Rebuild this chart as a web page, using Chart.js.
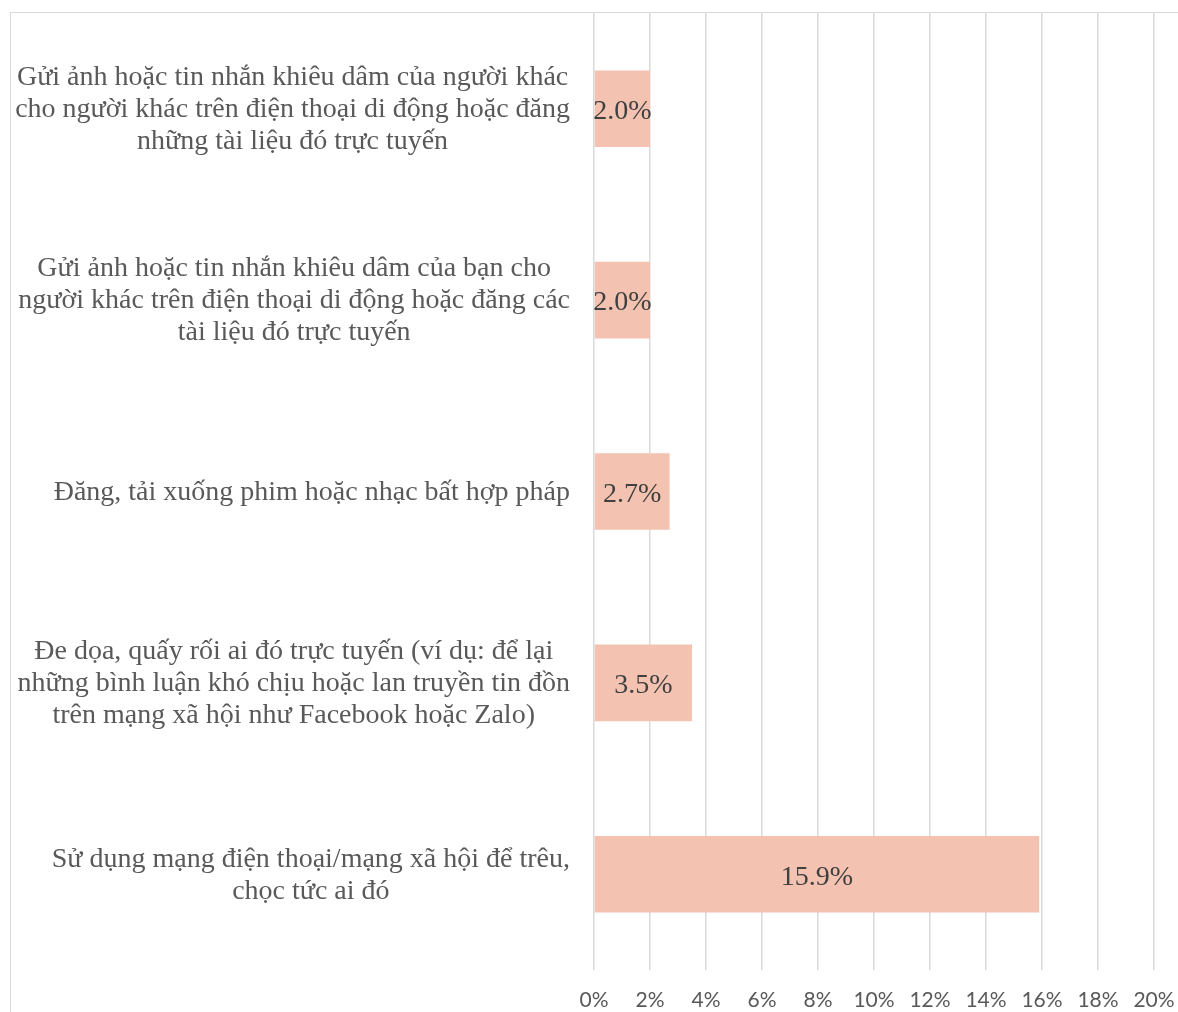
<!DOCTYPE html>
<html>
<head>
<meta charset="utf-8">
<script src="https://cdn.jsdelivr.net/npm/chart.js@4/dist/chart.umd.min.js"></script>
<style>
  html, body { margin: 0; padding: 0; background: #ffffff; }
  #wrap { position: relative; width: 1178px; height: 1012px; overflow: hidden; }
  #frame { position: absolute; left: 10px; top: 12px; width: 1200px; height: 1100px;
           border-left: 1px solid #d9d9d9; border-top: 1px solid #d9d9d9; box-sizing: border-box; pointer-events: none; }
  canvas { position: absolute; left: 0; top: 0; }
</style>
</head>
<body>
<div id="wrap">
  <canvas id="c" width="1178" height="1012"></canvas>
  <div id="frame"></div>
</div>
<script>
const categories = [
  ["Gửi ảnh hoặc tin nhắn khiêu dâm của người khác", "cho người khác trên điện thoại di động hoặc đăng", "những tài liệu đó trực tuyến"],
  ["Gửi ảnh hoặc tin nhắn khiêu dâm của bạn cho", "người khác trên điện thoại di động hoặc đăng các", "tài liệu đó trực tuyến"],
  ["Đăng, tải xuống phim hoặc nhạc bất hợp pháp"],
  ["Đe dọa, quấy rối ai đó trực tuyến (ví dụ: để lại", "những bình luận khó chịu hoặc lan truyền tin đồn", "trên mạng xã hội như Facebook hoặc Zalo)"],
  ["Sử dụng mạng điện thoại/mạng xã hội để trêu,", "chọc tức ai đó"]
];
const values = [2.0, 2.0, 2.7, 3.5, 15.9];
const valueLabels = ["2.0%", "2.0%", "2.7%", "3.5%", "15.9%"];
const xTickMin = 0, xTickMax = 20, xTickStep = 2;

const SERIF = '"Liberation Serif", "Times New Roman", serif';

const yLabelPlugin = {
  id: 'yLabels',
  afterDraw(chart) {
    const ctx = chart.ctx;
    const y = chart.scales.y;
    ctx.save();
    ctx.font = '28px ' + SERIF;
    ctx.fillStyle = '#595959';
    ctx.textAlign = 'center';
    ctx.textBaseline = 'middle';
    const rightEdge = 570;
    const lh = 32;
    categories.forEach((lines, i) => {
      const cy = y.getPixelForValue(i) + 1;
      let w = 0;
      lines.forEach(l => { w = Math.max(w, ctx.measureText(l).width); });
      const cx = rightEdge - w / 2;
      const startY = cy - (lines.length - 1) * lh / 2;
      lines.forEach((l, k) => ctx.fillText(l, cx, startY + k * lh));
    });
    ctx.restore();
  }
};

const valueLabelPlugin = {
  id: 'valueLabels',
  afterDatasetsDraw(chart) {
    const ctx = chart.ctx;
    const meta = chart.getDatasetMeta(0);
    ctx.save();
    ctx.font = '28px ' + SERIF;
    ctx.fillStyle = '#404040';
    ctx.textAlign = 'center';
    ctx.textBaseline = 'middle';
    meta.data.forEach((bar, i) => {
      const cx = (bar.x + bar.base) / 2;
      ctx.fillText(valueLabels[i], cx, bar.y + 3);
    });
    ctx.restore();
  }
};

new Chart(document.getElementById('c'), {
  type: 'bar',
  data: {
    labels: categories,
    datasets: [{
      data: values,
      backgroundColor: '#F4C2B1',
      borderWidth: 0,
      categoryPercentage: 0.8,
      barPercentage: 0.5
    }]
  },
  options: {
    indexAxis: 'y',
    responsive: false,
    animation: false,
    devicePixelRatio: 1,
    layout: { padding: { top: 13, right: 24, left: 0, bottom: 0 } },
    plugins: { legend: { display: false }, tooltip: { enabled: false } },
    scales: {
      x: {
        min: xTickMin, max: xTickMax,
        ticks: {
          stepSize: xTickStep,
          callback: v => v + '%',
          font: { family: 'Lato, "Open Sans", sans-serif', size: 21 },
          color: '#595959',
          padding: 18,
          maxRotation: 0
        },
        grid: { color: '#d9d9d9', lineWidth: 1.5, drawTicks: false },
        border: { display: false },
        afterFit(s) { s.height = 42; s.paddingLeft = 0; s.paddingRight = 0; }
      },
      y: {
        ticks: { display: false },
        grid: { display: false },
        border: { display: false },
        afterFit(s) { s.width = 594; s.paddingTop = 0; s.paddingBottom = 0; }
      }
    }
  },
  plugins: [yLabelPlugin, valueLabelPlugin]
});
</script>
</body>
</html>
